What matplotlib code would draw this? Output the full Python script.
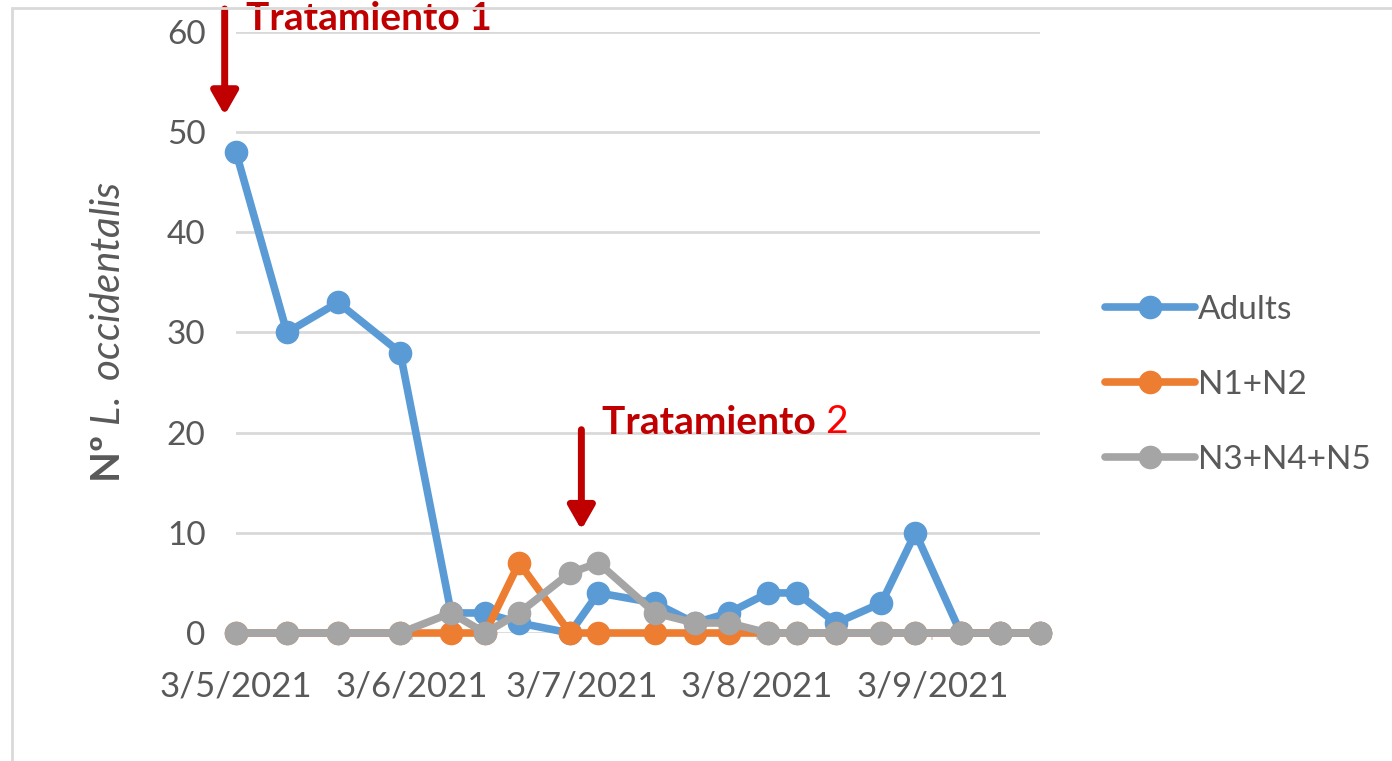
import pandas as pd
import matplotlib
matplotlib.use("Agg")
import matplotlib.pyplot as plt
import matplotlib.dates as mdates
from matplotlib.patches import Rectangle

plt.rcParams['font.family'] = ['Lato', 'DejaVu Sans']
plt.rcParams['mathtext.fontset'] = 'custom'
plt.rcParams['mathtext.rm'] = 'Lato'
plt.rcParams['mathtext.bf'] = 'Lato:bold'
plt.rcParams['mathtext.it'] = 'Lato:italic'

# ---- data ----
dates = pd.to_datetime([
    "2021-05-03", "2021-05-12", "2021-05-21", "2021-06-01", "2021-06-10",
    "2021-06-16", "2021-06-22", "2021-07-01", "2021-07-06", "2021-07-16",
    "2021-07-23", "2021-07-29", "2021-08-05", "2021-08-10", "2021-08-17",
    "2021-08-25", "2021-08-31", "2021-09-08", "2021-09-15", "2021-09-22"])
adults = [48, 30, 33, 28, 2, 2, 1, 0, 4, 3, 1, 2, 4, 4, 1, 3, 10, 0, 0, 0]
n1_n2 = [0, 0, 0, 0, 0, 0, 7, 0, 0, 0, 0, 0, 0, 0, 0, 0, 0, 0, 0, 0]
n3_n5 = [0, 0, 0, 0, 2, 0, 2, 6, 7, 2, 1, 1, 0, 0, 0, 0, 0, 0, 0, 0]
series = [("Adults", adults, "#5B9BD5"),
          ("N1+N2", n1_n2, "#ED7D31"),
          ("N3+N4+N5", n3_n5, "#A5A5A5")]
treat1 = pd.Timestamp("2021-05-01")
treat2 = pd.Timestamp("2021-07-03")

W, H = 1392, 761
fig = plt.figure(figsize=(W / 100, H / 100), dpi=100)
ax = fig.add_axes([236 / W, 128 / H, (1040 - 236) / W, 601 / H])

# outer chart border (only left/top visible in the crop)
fig.patches.append(Rectangle((12 / W, -0.1), 1.2, 1.1 - 8 / H, transform=fig.transFigure,
                             fill=False, edgecolor="#D9D9D9", lw=2, zorder=0))

for name, vals, col in series:
    ax.plot(dates, vals, color=col, lw=5.5, marker="o", ms=16, label=name,
            clip_on=False, solid_capstyle="round", zorder=3)

ax.set_xlim(dates[0], dates[-1])
ax.set_ylim(0, 60)
ax.set_yticks(range(0, 61, 10))
ax.xaxis.set_major_locator(mdates.MonthLocator(bymonthday=3))
ax.xaxis.set_major_formatter(plt.FuncFormatter(
    lambda v, p: "%d/%d/%d" % (mdates.num2date(v).day, mdates.num2date(v).month, mdates.num2date(v).year)))
ax.grid(axis="y", color="#D9D9D9", lw=2)
ax.set_axisbelow(True)
for s in ax.spines.values():
    s.set_visible(False)
ax.tick_params(axis="y", length=0, pad=22, labelsize=24, labelcolor="#595959")
ax.tick_params(axis="x", length=5, width=1.5, color="#D9D9D9", pad=22, labelsize=25, labelcolor="#595959")

ax.set_ylabel(r"$\mathbf{Nº}$ $\mathit{L.\ occidentalis}$", fontsize=29, color="#595959")
ax.yaxis.set_label_coords(-0.135, 0.5)

leg = ax.legend(loc="center left", bbox_to_anchor=(1105 / W, 1 - 385 / H), bbox_transform=fig.transFigure,
                frameon=False, fontsize=24, handlelength=2.7, handletextpad=0.1, labelspacing=1.35,
                borderaxespad=0, borderpad=0)
for t in leg.get_texts():
    t.set_color("#595959")

# treatment arrows
arrow = dict(arrowstyle="-|>,head_width=0.8,head_length=1.4", color="#C00000", lw=5, shrinkA=0, shrinkB=0)
ax.annotate("", xy=(treat1, 51.7), xytext=(treat1, 62.3), arrowprops=arrow, annotation_clip=False)
ax.annotate("", xy=(treat2, 10.3), xytext=(treat2, 20.3), arrowprops=arrow, annotation_clip=False)
ax.text(treat1 + pd.Timedelta(days=3.8), 61.3, "Tratamiento 1", color="#C00000", fontsize=28,
        fontweight="bold", va="center", ha="left", clip_on=False)
t2 = ax.text(treat2 + pd.Timedelta(days=3.6), 21.0, "Tratamiento ", color="#C00000", fontsize=28,
             fontweight="bold", va="center", ha="left")
ax.annotate("2", xy=(1, 0), xycoords=t2, va="bottom", ha="left", color="#FF0000", fontsize=28)

fig.savefig("out.png", dpi=100)
